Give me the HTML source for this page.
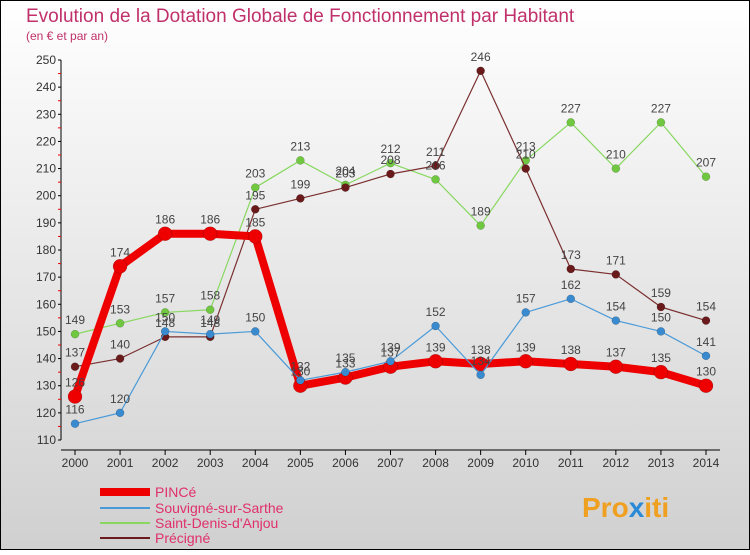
<!DOCTYPE html>
<html><head><meta charset="utf-8"><style>
body{margin:0;width:750px;height:550px;overflow:hidden;font-family:"Liberation Sans",sans-serif}
</style></head><body>
<svg width="750" height="550" xmlns="http://www.w3.org/2000/svg">
<defs><linearGradient id="bg" x1="0" y1="0" x2="0" y2="1"><stop offset="0" stop-color="#ffffff"/><stop offset="1" stop-color="#d0d0d0"/></linearGradient></defs>
<rect x="0.5" y="0.5" width="749" height="549" fill="url(#bg)" stroke="#000"/>
<text x="26" y="22" font-size="19" fill="#c0306a">Evolution de la Dotation Globale de Fonctionnement par Habitant</text>
<text x="26" y="40" font-size="12" fill="#c0306a">(en € et par an)</text>
<g id="axes"></g><g id="series"></g><g id="labels"></g>
<g>
<line x1="100" y1="492" x2="150" y2="492" stroke="#ee0000" stroke-width="8"/>
<text x="155" y="497" font-size="14" fill="#e0306a">PINCé</text>
<line x1="100" y1="508" x2="150" y2="508" stroke="#4a9ad8" stroke-width="2"/>
<text x="155" y="513" font-size="14" fill="#e0306a">Souvigné-sur-Sarthe</text>
<line x1="100" y1="523" x2="150" y2="523" stroke="#88d860" stroke-width="2"/>
<text x="155" y="528" font-size="14" fill="#e0306a">Saint-Denis-d'Anjou</text>
<line x1="100" y1="538" x2="150" y2="538" stroke="#6a1a1a" stroke-width="2"/>
<text x="155" y="543" font-size="14" fill="#e0306a">Précigné</text>
</g>
<text x="582" y="517" font-size="28" font-weight="bold" fill="#f0a020">Pro<tspan fill="#2a8ad8">x</tspan>iti</text>
</svg>
<script>
const years=[2000,2001,2002,2003,2004,2005,2006,2007,2008,2009,2010,2011,2012,2013,2014];
const pince=[126,174,186,186,185,130,133,137,139,138,139,138,137,135,130];
const souvigne=[116,120,150,149,150,132,135,139,152,134,157,162,154,150,141];
const saintDenis=[149,153,157,158,203,213,204,212,206,189,213,227,210,227,207];
const precigne=[137,140,148,148,195,199,203,208,211,246,210,173,171,159,154];
const yTicks=[110,120,130,140,150,160,170,180,190,200,210,220,230,240,250];
const NS="http://www.w3.org/2000/svg";
const X=i=>75+i*(706-75)/(years.length-1);
const Y=v=>440-(v-110)*(380/140);
function mk(t,a,p){const e=document.createElementNS(NS,t);for(const k in a)e.setAttribute(k,a[k]);p.appendChild(e);return e;}
const ax=document.getElementById('axes');
let e=mk('line',{x1:61,y1:Y(250),x2:61,y2:Y(110),stroke:'#000'},ax);


e=mk('line',{x1:61,y1:450,x2:720,y2:450,stroke:'#000'},ax);


yTicks.forEach((v,i)=>{mk('line',{x1:58,y1:Y(v),x2:61,y2:Y(v),stroke:'#000'},ax);
if(i<yTicks.length-1)mk('line',{x1:58,y1:Y(v+5),x2:61,y2:Y(v+5),stroke:'#e00'},ax);
const t=mk('text',{x:56,y:Y(v)+4,'font-size':12,fill:'#333','text-anchor':'end'},ax);t.textContent=v;

});
years.forEach((y,i)=>{mk('line',{x1:X(i),y1:450,x2:X(i),y2:455,stroke:'#000'},ax);
const t=mk('text',{x:X(i),y:467,'font-size':12,fill:'#333','text-anchor':'middle'},ax);t.textContent=y;

});
const sg=document.getElementById('series'),lg=document.getElementById('labels');
function draw(d,name,col,w,r,dot){
const g=mk('g',{},sg);


const p=mk('polyline',{points:d.map((v,i)=>X(i)+','+Y(v)).join(' '),fill:'none',stroke:col,'stroke-width':w,'stroke-linejoin':'round'},g);


d.forEach((v,i)=>{const c=mk('circle',{cx:X(i),cy:Y(v),r:r,fill:dot,stroke:'rgba(0,0,0,0.3)','stroke-width':0.5},g);


const t=mk('text',{x:X(i),y:Y(v)-10,'font-size':12,fill:'#444','text-anchor':'middle'},lg);t.textContent=v;

});}
draw(saintDenis,'saint-denis','#88d860',1.2,4,'#70c840');
draw(precigne,'precigne','#7a3030',1.2,4,'#6a1a1a');
draw(pince,'pince','#ee0000',8,7,'#ee0000');
draw(souvigne,'souvigne','#4a9ad8',1.2,4,'#3a8ad0');
</script>
</body></html>
